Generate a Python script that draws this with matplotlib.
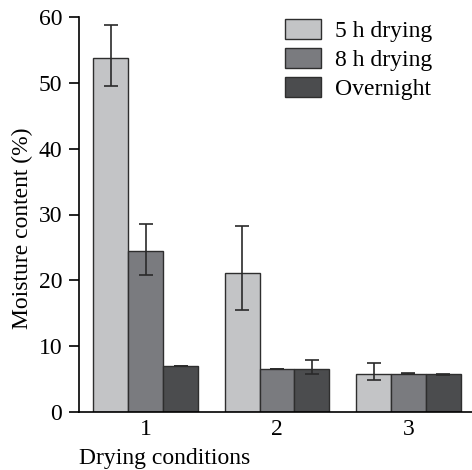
import numpy as np
import matplotlib.pyplot as plt

plt.rcParams['font.family'] = ['Liberation Serif', 'DejaVu Serif']
plt.rcParams['font.size'] = 17

# Data
conditions = ['1', '2', '3']
series = ['5 h drying', '8 h drying', 'Overnight']
means = [[53.8, 21.1, 5.7],
         [24.4, 6.5, 5.8],
         [6.95, 6.45, 5.7]]
err_low = [[4.2, 5.7, 0.9],
           [3.6, 0.05, 0.05],
           [0.05, 0.75, 0.1]]
err_high = [[5.1, 7.1, 1.75],
            [4.1, 0.05, 0.05],
            [0.05, 1.45, 0.1]]
colors = ['#c3c4c6', '#7a7b7f', '#4b4c4e']

fig = plt.figure(figsize=(4.72, 4.70), dpi=100)
ax = fig.add_axes([79 / 472, 1 - 411.7 / 470, 1 - 79 / 472, (411.7 - 17.3) / 470])

x = np.arange(1, len(conditions) + 1)
w = 0.266
for i in range(len(series)):
    ax.bar(x + (i - 1) * w, means[i], w, color=colors[i], edgecolor='#2e2e2e',
           linewidth=1.0, label=series[i],
           yerr=[err_low[i], err_high[i]], capsize=5,
           error_kw=dict(ecolor='#2a2a2a', elinewidth=1.2, capthick=1.2))

ax.set_xlim(0.494, 3.483)
ax.set_ylim(0, 60)
ax.set_yticks(np.arange(0, 61, 10))
ax.set_xticks(x)
ax.set_xticklabels(conditions)
ax.tick_params(axis='x', length=0, pad=5)
ax.tick_params(axis='y', length=7, width=1.2, pad=5)
ax.spines['top'].set_visible(False)
ax.spines['right'].set_visible(False)
ax.spines['left'].set_linewidth(1.2)
ax.spines['bottom'].set_linewidth(1.2)

ax.set_ylabel('Moisture content (%)')
ax.yaxis.set_label_coords(-0.117, 0.464)
ax.set_xlabel('Drying conditions', loc='left', labelpad=6)

ax.legend(loc='upper left', bbox_to_anchor=(285 / 472, 1 - 19 / 470),
          bbox_transform=fig.transFigure, frameon=False, borderpad=0,
          borderaxespad=0, handlelength=1.53, handleheight=0.93,
          handletextpad=0.6, labelspacing=0.25)

fig.savefig('out.png', dpi=100)
